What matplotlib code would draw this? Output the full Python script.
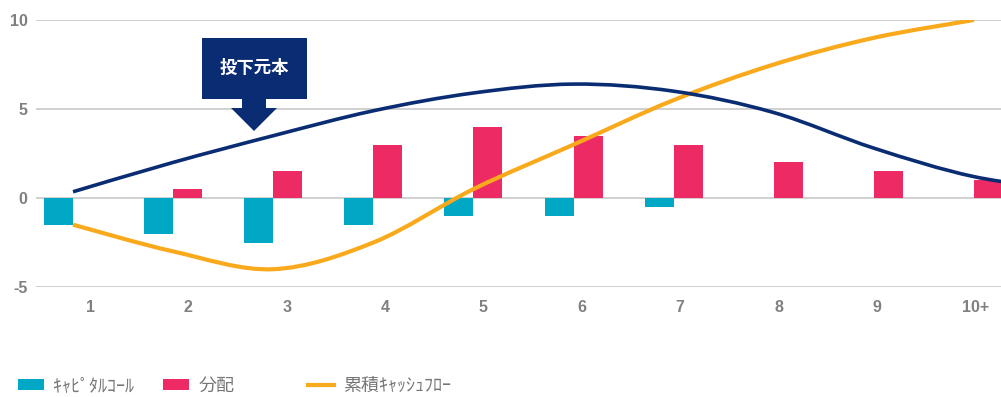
import matplotlib.pyplot as plt
import numpy as np
from matplotlib.path import Path
from matplotlib.patches import PathPatch, Polygon, Patch
from matplotlib.lines import Line2D

plt.rcParams['font.family'] = ['Noto Sans CJK JP', 'DejaVu Sans']

# fund cash flows by year
years = ['1', '2', '3', '4', '5', '6', '7', '8', '9', '10+']
capital_call = [-1.5, -2.0, -2.5, -1.5, -1.0, -1.0, -0.5, 0, 0, 0]
distribution = [0, 0.5, 1.5, 3.0, 4.0, 3.5, 3.0, 2.0, 1.5, 1.0]
# outstanding invested capital (runs one step past the last year)
invested = [0.35, 2.0, 3.5, 4.9, 5.9, 6.4, 6.0, 4.8, 2.8, 1.2, 0.4]

cumulative_cf = np.cumsum(np.add(capital_call, distribution))

CYAN = '#00A8C6'
PINK = '#EE2A65'
ORANGE = '#F9AA1C'
NAVY = '#0A2C72'
GREY = '#808080'


def smooth_path(xs, ys):
    # Catmull-Rom style curve through the points, as cubic Beziers
    pts = np.column_stack([xs, ys]).astype(float)
    ext = np.vstack([pts[0], pts, pts[-1]])
    verts = [pts[0]]
    codes = [Path.MOVETO]
    for i in range(len(pts) - 1):
        p0, p1, p2, p3 = ext[i], ext[i + 1], ext[i + 2], ext[i + 3]
        verts += [p1 + (p2 - p0) / 6, p2 - (p3 - p1) / 6, p2]
        codes += [Path.CURVE4] * 3
    return Path(verts, codes)


W, H = 1001, 397
fig = plt.figure(figsize=(W / 100, H / 100), dpi=100)
ax = fig.add_axes([36 / W, 110 / H, 965 / W, 267 / H])

x = np.arange(1, len(years) + 1)
bw = 0.29
ax.bar(x - bw / 2, capital_call, bw, color=CYAN, linewidth=0, zorder=2)
ax.bar(x + bw / 2, distribution, bw, color=PINK, linewidth=0, zorder=2)

ax.add_patch(PathPatch(smooth_path(x, cumulative_cf), fill=False,
                       edgecolor=ORANGE, lw=3.0, zorder=3))
ax.add_patch(PathPatch(smooth_path(np.arange(1, len(invested) + 1), invested),
                       fill=False, edgecolor=NAVY, lw=2.6, zorder=4))

ax.set_xlim(0.63, 10.27)
ax.set_ylim(-5, 10)
ax.set_yticks([-5, 0, 5, 10])
ax.set_yticklabels(['-5', '0', '5', '10'])
ax.set_xticks(1.17 + 0.9825 * np.arange(len(years)))
ax.set_xticklabels(years)
ax.yaxis.grid(True, color='#C8C8C8', lw=1.2, zorder=0)
ax.set_axisbelow(True)
for s in ax.spines.values():
    s.set_visible(False)
ax.tick_params(length=0, colors=GREY, labelsize=11.5)
ax.tick_params(axis='y', pad=6)
ax.tick_params(axis='x', pad=9)
for lab in ax.get_xticklabels() + ax.get_yticklabels():
    lab.set_fontfamily('Liberation Sans')
    lab.set_fontweight('bold')


# callout box with a down arrow
def px(p):
    return (p[0] / W, 1 - p[1] / H)


callout = [(202, 38), (307, 38), (307, 99), (266, 99), (266, 108),
           (277, 108), (254, 131), (231, 108), (242, 108), (242, 99),
           (202, 99)]
fig.patches.append(Polygon([px(p) for p in callout], closed=True,
                           facecolor=NAVY, edgecolor='none',
                           transform=fig.transFigure, zorder=5))
fig.text(*px((254.5, 68)), '投下元本', color='white', fontsize=12.5,
         fontweight='bold', ha='center', va='center', zorder=6)

# legend entries, each placed on its own
entries = [
    (Patch(facecolor=CYAN), 'ｷｬﾋﾟﾀﾙｺｰﾙ', 18),
    (Patch(facecolor=PINK), '分配', 163),
    (Line2D([], [], color=ORANGE, lw=3), '累積ｷｬｯｼｭﾌﾛｰ', 308),
]
for handle, label, left in entries:
    leg = fig.legend([handle], [label], loc='center left',
                     bbox_to_anchor=px((left, 386)), frameon=False,
                     fontsize=13, labelcolor='#767676', borderpad=0,
                     borderaxespad=0, handlelength=1.45, handleheight=0.6,
                     handletextpad=0.5)

fig.savefig('out.png', dpi=100)
